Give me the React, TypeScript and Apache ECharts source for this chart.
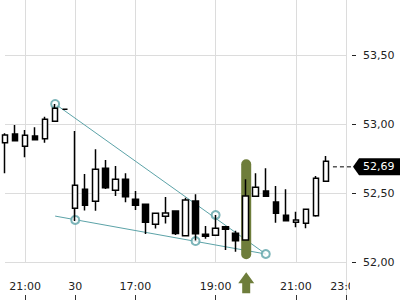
import React, { useEffect, useRef } from "react";
import * as echarts from "echarts";

// 15-minute slots (previous session tail, then session of the 30th)
const categories = [
  "20:30", "20:45", "21:00", "21:15", "21:30", "21:45", "22:00",
  "15:30", "15:45", "16:00", "16:15", "16:30", "16:45", "17:00", "17:15", "17:30", "17:45",
  "18:00", "18:15", "18:30", "18:45", "19:00", "19:15", "19:30", "19:45", "20:00", "20:15",
  "20:30", "20:45", "21:00", "21:15", "21:30", "21:45", "22:00", "22:15",
];
const tickIndex = [2, 7, 13, 21, 29, 34];
const tickLabels = ["21:00", "30", "17:00", "19:00", "21:00", "23:00"];
const priceTicks = [52, 52.5, 53, 53.5];

const opens = [
  52.865, 52.928, 52.839, 52.914, 52.894, 53.02, 53.107,
  52.389, 52.527, 52.44, 52.68, 52.52, 52.6, 52.455, 52.418, 52.273, 52.331,
  52.37, 52.191, 52.442, 52.201, 52.194, 52.256, 52.208, 52.16, 52.476, 52.515,
  52.435, 52.339, 52.288, 52.281, 52.336, 52.585,
];
const closes = [
  52.921, 52.88, 52.919, 52.887, 53.035, 53.115, 53.107,
  52.556, 52.411, 52.672, 52.539, 52.6, 52.474, 52.411, 52.288, 52.353, 52.355,
  52.207, 52.45, 52.205, 52.186, 52.244, 52.237, 52.154, 52.479, 52.542, 52.476,
  52.353, 52.3, 52.305, 52.382, 52.607, 52.73,
];
const lows = [
  52.643, 52.88, 52.759, 52.887, 52.865, 53.02, 53.107,
  52.297, 52.373, 52.372, 52.529, 52.479, 52.433, 52.377, 52.203, 52.243, 52.279,
  52.196, 52.186, 52.156, 52.169, 52.194, 52.087, 52.075, 52.16, 52.476, 52.476,
  52.285, 52.3, 52.252, 52.244, 52.329, 52.585,
];
const highs = [
  52.933, 52.994, 52.957, 52.977, 53.054, 53.146, 53.107,
  52.95, 52.638, 52.817, 52.74, 52.696, 52.643, 52.515, 52.418, 52.353, 52.471,
  52.37, 52.466, 52.491, 52.261, 52.341, 52.261, 52.227, 52.6, 52.643, 52.68,
  52.551, 52.527, 52.365, 52.382, 52.624, 52.769,
];

const upperLine = [[5, 53.146], [26, 52.058]];
const lowerLine = [[5, 52.333], [26, 52.058]];
const touchPoints = [[5, 53.146], [7, 52.305], [19, 52.152], [21, 52.341], [26, 52.058]];
const signal = [[24, 52.745, 52.02]];
const lastIndex = 32;
const lastPrice = 52.69;

const FONT = "DejaVu Sans";
const TEAL = "#5ca3a8";
const OLIVE = "#6e7d3b";
const GRID_LEFT = 5;
const GRID_WIDTH = 341;
const GRID_BOTTOM = 38;
const Y_MIN = 52;
const Y_MAX = 53.9;

export default function App() {
  const ref = useRef<HTMLDivElement>(null);
  useEffect(() => {
    if (!ref.current) return;
    const chart = echarts.init(ref.current, null, { renderer: "svg" });
    const candles = opens.map((o, i) => [o, closes[i], lows[i], highs[i]]);
    const showAt = (i: number) => tickIndex.includes(i);
    const fmt = (v: number) => v.toFixed(2).replace(".", ",");
    const axisX = GRID_LEFT + GRID_WIDTH;
    const gridColors = [0, 1, 2, 3, 4, 5].map((i) => (i < priceTicks.length ? "#dcdcdc" : "rgba(0,0,0,0)"));

    chart.setOption({
      animation: false,
      backgroundColor: "#ffffff",
      grid: { left: GRID_LEFT, width: GRID_WIDTH, top: 0, bottom: GRID_BOTTOM },
      xAxis: {
        type: "category",
        data: categories,
        boundaryGap: false,
        position: "bottom",
        offset: GRID_BOTTOM,
        axisLine: { show: false },
        axisTick: { show: true, inside: true, length: 5, interval: (i: number) => showAt(i), lineStyle: { color: "#333" } },
        axisLabel: {
          inside: true,
          margin: 8,
          interval: (i: number) => showAt(i),
          formatter: (_v: string, i: number) => {
            const k = tickIndex.indexOf(i);
            return k >= 0 ? tickLabels[k] : "";
          },
          color: "#222",
          fontFamily: FONT,
          fontSize: 11,
        },
        splitLine: { show: true, interval: (i: number) => showAt(i), lineStyle: { color: "#dcdcdc", width: 1 } },
      },
      yAxis: [
        {
          type: "value",
          position: "right",
          min: Y_MIN,
          max: Y_MAX,
          interval: 0.5,
          axisLine: { show: true, lineStyle: { color: "#dcdcdc" } },
          axisTick: { show: false },
          axisLabel: {
            margin: 17,
            showMaxLabel: false,
            formatter: (v: number) => (priceTicks.includes(Math.round(v * 100) / 100) ? fmt(v) : ""),
            color: "#222",
            fontFamily: FONT,
            fontSize: 11,
          },
          splitLine: { show: true, lineStyle: { color: gridColors, width: 1 } },
        },
        {
          type: "value",
          position: "right",
          offset: 6,
          min: Y_MIN,
          max: Y_MAX,
          interval: 0.5,
          axisLine: { show: false },
          axisTick: { show: true, length: 4, customValues: priceTicks, lineStyle: { color: "#222" } },
          axisLabel: { show: false },
          splitLine: { show: false },
        },
      ],
      series: [
        {
          type: "line",
          data: upperLine,
          showSymbol: false,
          lineStyle: { color: TEAL, width: 1 },
          z: 1,
          silent: true,
        },
        {
          type: "line",
          data: lowerLine,
          showSymbol: false,
          lineStyle: { color: TEAL, width: 1 },
          z: 1,
          silent: true,
        },
        {
          type: "scatter",
          data: touchPoints,
          symbol: "emptyCircle",
          symbolSize: 8,
          itemStyle: { color: TEAL, borderColor: TEAL, borderWidth: 1 },
          z: 1,
        },
        {
          type: "custom",
          data: signal,
          clip: false,
          z: 2,
          renderItem: (_p: any, api: any) => {
            const top = api.coord([api.value(0), api.value(1)]);
            const bot = api.coord([api.value(0), api.value(2)]);
            const cx = top[0] + 0.5;
            const ay = bot[1] + 13;
            return {
              type: "group",
              children: [
                {
                  type: "rect",
                  shape: { x: cx - 5, y: top[1], width: 10, height: bot[1] - top[1], r: 5 },
                  style: { fill: OLIVE },
                },
                {
                  type: "polygon",
                  shape: {
                    points: [
                      [cx, ay], [cx + 8, ay + 11], [cx + 4, ay + 11], [cx + 4, ay + 21],
                      [cx - 4, ay + 21], [cx - 4, ay + 11], [cx - 8, ay + 11],
                    ],
                  },
                  style: { fill: OLIVE },
                },
              ],
            };
          },
        },
        {
          type: "candlestick",
          data: candles,
          barWidth: 6,
          clip: false,
          z: 3,
          itemStyle: {
            color: "#ffffff",
            color0: "#000000",
            borderColor: "#000000",
            borderColor0: "#000000",
            borderWidth: 1.5,
          },
        },
        {
          type: "custom",
          data: [[lastIndex, lastPrice]],
          clip: false,
          z: 4,
          renderItem: (_p: any, api: any) => {
            const p = api.coord([api.value(0), api.value(1)]);
            const y = p[1];
            const tip = axisX + 7;
            return {
              type: "group",
              children: [
                {
                  type: "line",
                  shape: { x1: p[0] + 7, y1: y, x2: axisX + 6, y2: y },
                  style: { stroke: "#000", lineWidth: 1, lineDash: [4, 3] },
                },
                {
                  type: "polygon",
                  shape: {
                    points: [[tip, y], [tip + 6, y - 8.5], [400, y - 8.5], [400, y + 8.5], [tip + 6, y + 8.5]],
                  },
                  style: { fill: "#000" },
                },
                {
                  type: "text",
                  style: {
                    x: axisX + 17,
                    y: y,
                    text: fmt(api.value(1)),
                    fill: "#fff",
                    font: `11px "${FONT}"`,
                    textAlign: "left",
                    textVerticalAlign: "middle",
                  },
                },
              ],
            };
          },
        },
      ],
      graphic: [
        {
          type: "line",
          shape: { x1: axisX + 0.5, y1: 300 - GRID_BOTTOM, x2: axisX + 0.5, y2: 300 },
          style: { stroke: "#dcdcdc", lineWidth: 1 },
          z: 0,
        },
        {
          type: "rect",
          shape: { x: axisX + 4, y: 276, width: 60, height: 24 },
          style: { fill: "#ffffff" },
          z: 100,
        },
      ],
    });
    return () => chart.dispose();
  }, []);
  return (
    <div
      ref={ref}
      style={{ position: "fixed", left: 0, top: 0, width: 400, height: 300, background: "#fff" }}
    />
  );
}
